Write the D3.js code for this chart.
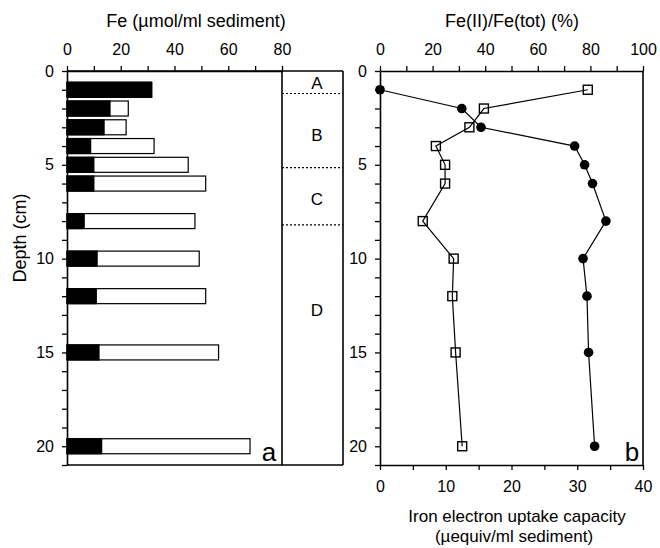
<!DOCTYPE html>
<html>
<head>
<meta charset="utf-8">
<script src="https://cdn.jsdelivr.net/npm/d3@7"></script>
<style>
  html, body { margin: 0; padding: 0; background: #fff; }
  svg { display: block; }
  text { font-family: "Liberation Sans", Arial, sans-serif; fill: #000; }
</style>
</head>
<body>
<svg id="chart" width="660" height="548"></svg>
<script>
// ---- data ----
const depths   = [1, 2, 3, 4, 5, 6, 8, 10, 12, 15, 20];
const fe3      = [31.5, 16.0, 13.8, 8.8, 10.0, 10.0, 6.4, 11.2, 10.9, 11.9, 12.9];   // black part
const feTot    = [31.5, 22.8, 22.0, 32.4, 45.1, 51.6, 47.6, 49.2, 51.6, 56.4, 68.1]; // total length
const fe2Pct   = [0, 31.1, 38.4, 74.0, 77.8, 80.8, 85.9, 77.2, 78.7, 79.3, 81.6];    // Fe(II)/Fe(tot) %
const euc      = [31.6, 15.8, 13.6, 8.5, 9.9, 9.9, 6.5, 11.2, 11.0, 11.5, 12.5];     // electron uptake capacity
const zoneBounds = [1.2, 5.15, 8.2];
const zoneLabels = ["A", "B", "C", "D"];
const zoneLabelDepths = [0.61, 3.39, 6.79, 12.75];
const depthTicks = d3.range(0, 22, 1);
const feTicks = d3.range(0, 81, 10);
const pctTicks = d3.range(0, 101, 10);
const eucTicks = d3.range(0, 41, 5);

const svg = d3.select("#chart");

const y = d3.scaleLinear().domain([0, 21]).range([71, 465]);
const xFe = d3.scaleLinear().domain([0, 80]).range([67, 282]);
const xPct = d3.scaleLinear().domain([0, 100]).range([380, 643]);
const xEuc = d3.scaleLinear().domain([0, 40]).range([380, 643]);
const zoneRight = 343;
const barH = y(0.8) - y(0);
const tickFs = 16;

function styleAxis(g, fs) {
  g.select(".domain").attr("stroke", "#000").attr("stroke-width", 1.6);
  g.selectAll(".tick line").attr("stroke", "#000").attr("stroke-width", 1.3);
  g.selectAll(".tick text").style("font-size", fs + "px").style("font-family", '"Liberation Sans", Arial, sans-serif');
}

// ---------- Panel a ----------
svg.append("g").selectAll("rect.tot").data(depths).join("rect")
  .attr("x", xFe(0))
  .attr("y", (d) => y(d) - barH / 2)
  .attr("width", (d, i) => xFe(feTot[i]) - xFe(0))
  .attr("height", barH)
  .attr("fill", "#fff").attr("stroke", "#000").attr("stroke-width", 1.2);
svg.append("g").selectAll("rect.blk").data(depths).join("rect")
  .attr("x", xFe(0))
  .attr("y", (d) => y(d) - barH / 2)
  .attr("width", (d, i) => xFe(fe3[i]) - xFe(0))
  .attr("height", barH)
  .attr("fill", "#000").attr("stroke", "#000").attr("stroke-width", 1.2);

const boxA = svg.append("g").attr("stroke", "#000").attr("stroke-width", 1.6);
boxA.append("line").attr("x1", xFe(80)).attr("x2", xFe(80)).attr("y1", y(0)).attr("y2", y(21));
boxA.append("line").attr("x1", zoneRight).attr("x2", zoneRight).attr("y1", y(0)).attr("y2", y(21));
boxA.append("line").attr("x1", xFe(0)).attr("x2", zoneRight).attr("y1", y(0)).attr("y2", y(0));
boxA.append("line").attr("x1", xFe(0)).attr("x2", zoneRight).attr("y1", y(21)).attr("y2", y(21));

svg.append("g").selectAll("line").data(zoneBounds).join("line")
  .attr("x1", xFe(80)).attr("x2", zoneRight)
  .attr("y1", (d) => y(d)).attr("y2", (d) => y(d))
  .attr("stroke", "#000").attr("stroke-width", 1.2).attr("stroke-dasharray", "2,2");
svg.append("g").selectAll("text").data(zoneLabels).join("text")
  .attr("x", 317)
  .attr("y", (d, i) => y(zoneLabelDepths[i]))
  .attr("dy", "0.36em")
  .attr("text-anchor", "middle")
  .style("font-size", "17px")
  .text((d) => d);

const axTopA = svg.append("g").attr("transform", `translate(0,${y(0)})`)
  .call(d3.axisTop(xFe).tickValues(feTicks).tickSize(5).tickSizeOuter(0).tickPadding(11)
    .tickFormat((d) => d % 20 === 0 ? d : ""));
styleAxis(axTopA, tickFs);
const axLeftA = svg.append("g").attr("transform", `translate(${xFe(0)},0)`)
  .call(d3.axisLeft(y).tickValues(depthTicks).tickSize(5).tickSizeOuter(0).tickPadding(8)
    .tickFormat((d) => d % 5 === 0 ? d : ""));
styleAxis(axLeftA, tickFs);

svg.append("text").attr("x", 196).attr("y", 27).attr("text-anchor", "middle")
  .style("font-size", "18px").text("Fe (µmol/ml sediment)");
svg.append("text").attr("transform", "translate(26,238) rotate(-90)").attr("text-anchor", "middle")
  .style("font-size", "18px").text("Depth (cm)");
svg.append("text").attr("x", 269).attr("y", 461).attr("text-anchor", "middle")
  .style("font-size", "26px").text("a");

// ---------- Panel b ----------
const boxB = svg.append("g").attr("stroke", "#000").attr("stroke-width", 1.6);
boxB.append("line").attr("x1", xPct(100)).attr("x2", xPct(100)).attr("y1", y(0)).attr("y2", y(21));

const lineGen = (xs, xArr) => d3.line()
  .x((d, i) => xs(xArr[i]))
  .y((d) => y(d));

svg.append("path").datum(depths)
  .attr("d", lineGen(xPct, fe2Pct))
  .attr("fill", "none").attr("stroke", "#000").attr("stroke-width", 1.2);
svg.append("path").datum(depths)
  .attr("d", lineGen(xEuc, euc))
  .attr("fill", "none").attr("stroke", "#000").attr("stroke-width", 1.2);

const sq = 9;
svg.append("g").selectAll("rect").data(depths).join("rect")
  .attr("x", (d, i) => xEuc(euc[i]) - sq / 2)
  .attr("y", (d) => y(d) - sq / 2)
  .attr("width", sq).attr("height", sq)
  .attr("fill", "none").attr("stroke", "#000").attr("stroke-width", 1.4);
svg.append("g").selectAll("circle").data(depths).join("circle")
  .attr("cx", (d, i) => xPct(fe2Pct[i]))
  .attr("cy", (d) => y(d))
  .attr("r", 4.8)
  .attr("fill", "#000");

const axTopB = svg.append("g").attr("transform", `translate(0,${y(0)})`)
  .call(d3.axisTop(xPct).tickValues(pctTicks).tickSize(5).tickSizeOuter(0).tickPadding(11)
    .tickFormat((d) => d % 20 === 0 ? d : ""));
styleAxis(axTopB, tickFs);
const axBotB = svg.append("g").attr("transform", `translate(0,${y(21)})`)
  .call(d3.axisBottom(xEuc).tickValues(eucTicks).tickSize(5).tickSizeOuter(0).tickPadding(11)
    .tickFormat((d) => d % 10 === 0 ? d : ""));
styleAxis(axBotB, tickFs);
const axLeftB = svg.append("g").attr("transform", `translate(${xPct(0)},0)`)
  .call(d3.axisLeft(y).tickValues(depthTicks).tickSize(5).tickSizeOuter(0).tickPadding(8)
    .tickFormat((d) => d % 5 === 0 ? d : ""));
styleAxis(axLeftB, tickFs);

svg.append("text").attr("x", 512).attr("y", 27).attr("text-anchor", "middle")
  .style("font-size", "18px").text("Fe(II)/Fe(tot) (%)");
svg.append("text").attr("x", 517).attr("y", 522).attr("text-anchor", "middle")
  .style("font-size", "17px").text("Iron electron uptake capacity");
svg.append("text").attr("x", 514).attr("y", 542).attr("text-anchor", "middle")
  .style("font-size", "17px").text("(µequiv/ml sediment)");
svg.append("text").attr("x", 632).attr("y", 461).attr("text-anchor", "middle")
  .style("font-size", "26px").text("b");
</script>
</body>
</html>
